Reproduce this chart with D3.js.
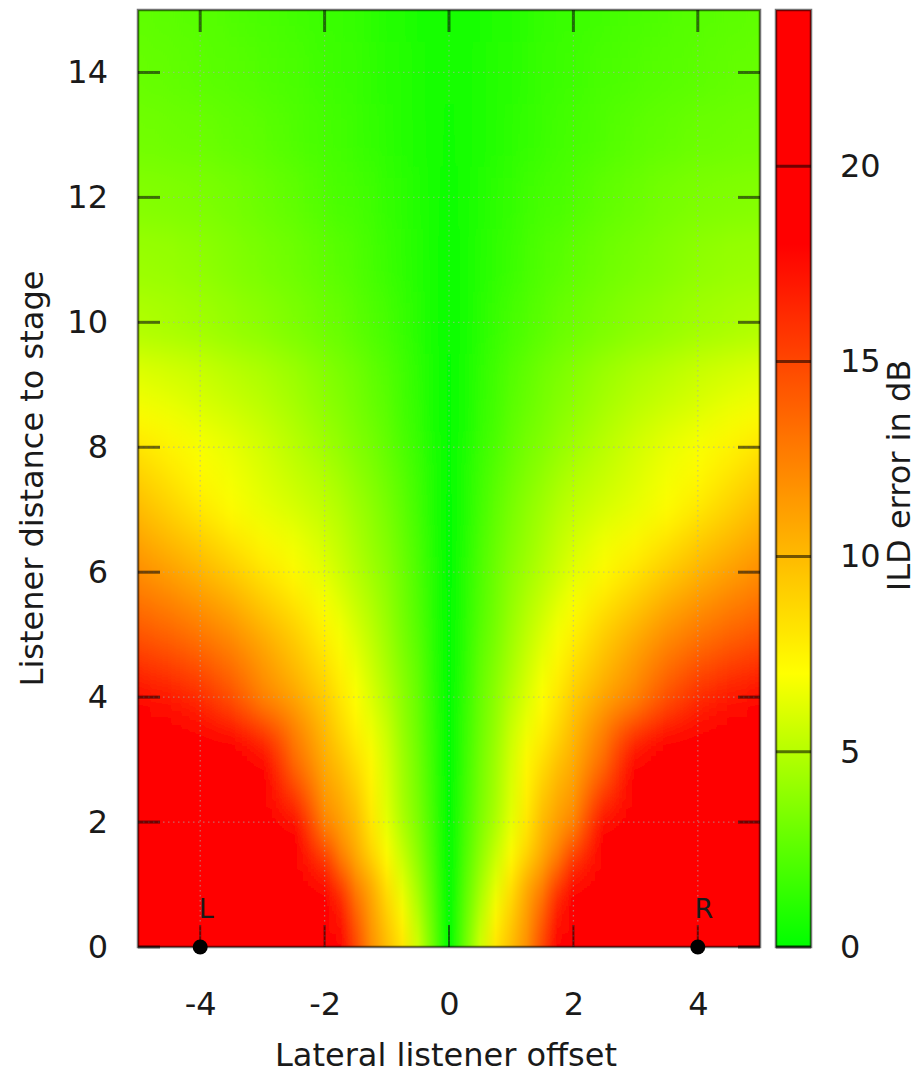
<!DOCTYPE html>
<html><head><meta charset="utf-8">
<script src="https://cdn.jsdelivr.net/npm/d3@7/dist/d3.min.js"></script>
<style>
body{margin:0;background:#fff}
svg{display:block}
text{font-family:"DejaVu Sans",sans-serif;fill:#1a1a1a}
</style>
</head><body>
<svg id="chart" width="919" height="1076"></svg>
<script>
// Lateral offsets (columns) and listener distances (rows) of the sampled ILD-error field
const xValues = [-5,-4.5,-4,-3.5,-3,-2.5,-2,-1.75,-1.5,-1.25,-1,-0.75,-0.5,-0.25,0,0.25,0.5,0.75,1,1.25,1.5,1.75,2,2.5,3,3.5,4,4.5,5];
const yValues = [0,0.5,1,1.5,2,2.5,3,3.5,4,4.5,5,5.5,6,6.5,7,7.5,8,8.5,9,10,11,12,13,14,15];
// ILD error in dB, one row per yValue (red area saturates)
const ildRows = [
 [25,25,25,25,25,25,22,18,15,12,10,8.3,5.7,2.9,0,2.9,5.7,8.3,10,12,15,18,22,25,25,25,25,25,25],
 [25,25,25,25,25,25,21,17,14,11.3,9.2,7.3,5.0,2.6,0,2.6,5.0,7.3,9.2,11.3,14,17,21,25,25,25,25,25,25],
 [25,25,25,25,25,24,19.5,15.8,12.7,10.8,8.4,6.2,4.4,2.3,0,2.3,4.4,6.2,8.4,10.8,12.7,15.8,19.5,24,25,25,25,25,25],
 [25,25,25,25,25,22.5,15.6,12.6,10.6,8.8,7.1,5.4,3.8,2.0,0,2.0,3.8,5.4,7.1,8.8,10.6,12.6,15.6,22.5,25,25,25,25,25],
 [25,25,25,25,22,18,12.3,11.2,10,8.1,6.2,4.7,3.4,1.8,0,1.8,3.4,4.7,6.2,8.1,10,11.2,12.3,18,22,25,25,25,25],
 [25,25,25,24,20.5,15.5,11.4,10.5,9.2,7.6,6.0,4.5,3.2,1.7,0,1.7,3.2,4.5,6.0,7.6,9.2,10.5,11.4,15.5,20.5,24,25,25,25],
 [25,25,24.5,21,18,13.5,10.6,9.6,8.4,7.3,5.8,4.4,3.1,1.6,0,1.6,3.1,4.4,5.8,7.3,8.4,9.6,10.6,13.5,18,21,24.5,25,25],
 [22,21,19.8,18,15.8,12.7,10,8.7,7.6,6.5,5.5,4.1,2.9,1.5,0,1.5,2.9,4.1,5.5,6.5,7.6,8.7,10,12.7,15.8,18,19.8,21,22],
 [18,17.3,16.3,14.6,12.4,11,9.2,8.1,7.0,6.0,5.0,3.9,2.8,1.4,0,1.4,2.8,3.9,5.0,6.0,7.0,8.1,9.2,11,12.4,14.6,16.3,17.3,18],
 [16.2,15.5,14.6,13.3,11.6,10,8.4,7.5,6.5,5.6,4.6,3.6,2.6,1.3,0,1.3,2.6,3.6,4.6,5.6,6.5,7.5,8.4,10,11.6,13.3,14.6,15.5,16.2],
 [14.5,13.8,13,12,10.6,9.2,7.6,6.8,6.0,5.2,4.3,3.3,2.4,1.2,0,1.2,2.4,3.3,4.3,5.2,6.0,6.8,7.6,9.2,10.6,12,13,13.8,14.5],
 [13.2,12.5,11.7,10.7,9.4,8.2,6.9,6.2,5.5,4.8,4.0,3.1,2.2,1.1,0,1.1,2.2,3.1,4.0,4.8,5.5,6.2,6.9,8.2,9.4,10.7,11.7,12.5,13.2],
 [12,11.2,10.3,9.3,8.2,7.2,6.2,5.6,5.0,4.4,3.8,3.0,2.1,1.1,0,1.1,2.1,3.0,3.8,4.4,5.0,5.6,6.2,7.2,8.2,9.3,10.3,11.2,12],
 [11,10.1,9.2,8.2,7.3,6.6,5.8,5.3,4.7,4.1,3.5,2.8,2.0,1.0,0,1.0,2.0,2.8,3.5,4.1,4.7,5.3,5.8,6.6,7.3,8.2,9.2,10.1,11],
 [10,9,8,7.1,6.4,5.9,5.3,4.9,4.4,3.9,3.3,2.6,1.8,0.9,0,0.9,1.8,2.6,3.3,3.9,4.4,4.9,5.3,5.9,6.4,7.1,8,9,10],
 [9.1,8.2,7.3,6.7,6.1,5.5,4.9,4.5,4.0,3.5,3.0,2.4,1.7,0.9,0.05,0.9,1.7,2.4,3.0,3.5,4.0,4.5,4.9,5.5,6.1,6.7,7.3,8.2,9.1],
 [8.2,7.5,6.9,6.4,5.8,5.1,4.4,4.0,3.6,3.2,2.7,2.1,1.5,0.8,0.1,0.8,1.5,2.1,2.7,3.2,3.6,4.0,4.4,5.1,5.8,6.4,6.9,7.5,8.2],
 [7.1,6.7,6.2,5.8,5.3,4.7,4.0,3.7,3.3,2.9,2.5,1.9,1.4,0.7,0.1,0.7,1.4,1.9,2.5,2.9,3.3,3.7,4.0,4.7,5.3,5.8,6.2,6.7,7.1],
 [6.2,5.9,5.6,5.2,4.8,4.3,3.7,3.4,3.1,2.7,2.3,1.8,1.3,0.7,0.1,0.7,1.3,1.8,2.3,2.7,3.1,3.4,3.7,4.3,4.8,5.2,5.6,5.9,6.2],
 [4.8,4.6,4.4,4.1,3.8,3.4,3.0,2.8,2.5,2.2,1.9,1.5,1.1,0.6,0.2,0.6,1.1,1.5,1.9,2.2,2.5,2.8,3.0,3.4,3.8,4.1,4.4,4.6,4.8],
 [4.2,4.1,3.9,3.6,3.3,3.0,2.6,2.4,2.2,1.9,1.6,1.3,1.0,0.6,0.2,0.6,1.0,1.3,1.6,1.9,2.2,2.4,2.6,3.0,3.3,3.6,3.9,4.1,4.2],
 [3.6,3.5,3.4,3.2,2.9,2.6,2.2,2.0,1.9,1.7,1.4,1.2,0.9,0.6,0.3,0.6,0.9,1.2,1.4,1.7,1.9,2.0,2.2,2.6,2.9,3.2,3.4,3.5,3.6],
 [3.1,3.0,2.9,2.7,2.5,2.2,1.9,1.8,1.6,1.4,1.2,1.0,0.8,0.6,0.4,0.6,0.8,1.0,1.2,1.4,1.6,1.8,1.9,2.2,2.5,2.7,2.9,3.0,3.1],
 [2.8,2.7,2.5,2.4,2.2,2.0,1.7,1.6,1.5,1.3,1.1,1.0,0.8,0.6,0.5,0.6,0.8,1.0,1.1,1.3,1.5,1.6,1.7,2.0,2.2,2.4,2.5,2.7,2.8],
 [2.6,2.5,2.4,2.2,2.0,1.8,1.6,1.5,1.4,1.2,1.0,0.9,0.7,0.6,0.5,0.6,0.7,0.9,1.0,1.2,1.4,1.5,1.6,1.8,2.0,2.2,2.4,2.5,2.6]
];
const xTicks = [-4,-2,0,2,4];
const yTicks = [0,2,4,6,8,10,12,14];
const cbTicks = [0,5,10,15,20];
const paletteStops = [0,7,12,18,24];
const paletteColors = ["#00ff00","#ffff00","#ff8c00","#ff0000","#ff0000"];
const speakerLabels = ["L","R"];
const speakerX = [-4,4];
const speakerY = [0,0];

const svg = d3.select("#chart");
const plot = {left:138, right:760, top:10, bottom:947};
const cb = {left:776, right:811};
const x = d3.scaleLinear().domain([-5,5]).range([plot.left, plot.right]);
const y = d3.scaleLinear().domain([0,15]).range([plot.bottom, plot.top]);
const cy = d3.scaleLinear().domain([0,24]).range([plot.bottom, plot.top]);
const color = d3.scaleLinear().domain(paletteStops).range(paletteColors).clamp(true);
const tickCol = "rgba(0,0,0,0.55)";

svg.append("rect").attr("width",919).attr("height",1076).attr("fill","#fff");
const defs = svg.append("defs");
defs.append("clipPath").attr("id","plotClip").append("rect")
  .attr("x",plot.left).attr("y",plot.top)
  .attr("width",plot.right-plot.left).attr("height",plot.bottom-plot.top);
const filt = defs.append("filter").attr("id","vblur")
  .attr("filterUnits","userSpaceOnUse").attr("x",0).attr("y",-200)
  .attr("width",919).attr("height",1476);
filt.append("feGaussianBlur").attr("stdDeviation","0.01 17");

// one horizontal gradient per sampled row
ildRows.forEach((row,j)=>{
  const g = defs.append("linearGradient").attr("id","row"+j)
    .attr("gradientUnits","userSpaceOnUse")
    .attr("x1",x(-5)).attr("x2",x(5)).attr("y1",0).attr("y2",0);
  row.forEach((v,i)=>{
    g.append("stop").attr("offset",(x(xValues[i])-x(-5))/(x(5)-x(-5))).attr("stop-color",color(v));
  });
});

const pad = 80;
const last = yValues.length-1;
const rowTop = j => j===last ? y(15)-pad : y((yValues[j]+yValues[j+1])/2);
const rowBot = j => j===0 ? y(0)+pad : y((yValues[j-1]+yValues[j])/2);
const heat = svg.append("g").attr("clip-path","url(#plotClip)")
  .append("g").attr("filter","url(#vblur)");
heat.selectAll("rect").data(ildRows).join("rect")
  .attr("x",x(-5)-pad).attr("width",x(5)-x(-5)+2*pad)
  .attr("y",(d,j)=>rowTop(j))
  .attr("height",(d,j)=>rowBot(j)-rowTop(j)+0.5)
  .attr("fill",(d,j)=>`url(#row${j})`);

// grid
const grid = svg.append("g").attr("stroke","rgba(170,170,170,0.6)").attr("stroke-width",1.3).attr("stroke-dasharray","1.5 3.5");
grid.selectAll("line.gx").data(xTicks).join("line").attr("class","gx")
  .attr("x1",d=>x(d)).attr("x2",d=>x(d)).attr("y1",plot.top).attr("y2",plot.bottom);
grid.selectAll("line.gy").data(yTicks.filter(d=>d>0)).join("line").attr("class","gy")
  .attr("y1",d=>y(d)).attr("y2",d=>y(d)).attr("x1",plot.left).attr("x2",plot.right);

// inward ticks on all four sides
const tk = 22;
const ticks = svg.append("g").attr("stroke",tickCol).attr("stroke-width",3);
xTicks.forEach(d=>{
  ticks.append("line").attr("x1",x(d)).attr("x2",x(d)).attr("y1",plot.bottom).attr("y2",plot.bottom-tk).attr("stroke-width",2);
  ticks.append("line").attr("x1",x(d)).attr("x2",x(d)).attr("y1",plot.top).attr("y2",plot.top+tk);
});
yTicks.forEach(d=>{
  ticks.append("line").attr("y1",y(d)).attr("y2",y(d)).attr("x1",plot.left).attr("x2",plot.left+tk);
  ticks.append("line").attr("y1",y(d)).attr("y2",y(d)).attr("x1",plot.right).attr("x2",plot.right-tk);
});
svg.append("rect").attr("x",plot.left).attr("y",plot.top)
  .attr("width",plot.right-plot.left).attr("height",plot.bottom-plot.top)
  .attr("fill","none").attr("stroke",tickCol).attr("stroke-width",2.5);

// speakers
svg.selectAll("circle.spk").data(speakerX).join("circle").attr("class","spk")
  .attr("cx",d=>x(d)).attr("cy",(d,i)=>y(speakerY[i])).attr("r",7.5).attr("fill","#000");
svg.selectAll("text.spk").data(speakerLabels).join("text").attr("class","spk")
  .attr("x",(d,i)=>x(speakerX[i])+6).attr("y",(d,i)=>y(speakerY[i])-29)
  .attr("text-anchor","middle").attr("font-size",27).text(d=>d);

// axes labels
const fmt = d=>String(d);
svg.append("g").attr("transform",`translate(0,${plot.bottom})`)
  .call(d3.axisBottom(x).tickValues(xTicks).tickSize(0).tickFormat(fmt))
  .attr("font-size",32).attr("font-family",null)
  .call(g=>g.select(".domain").remove())
  .call(g=>g.selectAll("text").attr("y",68).attr("dy",null));
svg.append("g").attr("transform",`translate(${plot.left},0)`)
  .call(d3.axisLeft(y).tickValues(yTicks).tickSize(0).tickPadding(30).tickFormat(fmt))
  .attr("font-size",32).attr("font-family",null)
  .call(g=>g.select(".domain").remove());

// colour box
const cg = defs.append("linearGradient").attr("id","cbGrad")
  .attr("x1",0).attr("x2",0).attr("y1",1).attr("y2",0);
d3.range(0,24.01,0.5).forEach(v=>cg.append("stop").attr("offset",v/24).attr("stop-color",color(v)));
svg.append("rect").attr("x",cb.left).attr("y",plot.top)
  .attr("width",cb.right-cb.left).attr("height",plot.bottom-plot.top)
  .attr("fill","url(#cbGrad)").attr("stroke",tickCol).attr("stroke-width",2.5);
svg.append("g").attr("stroke",tickCol).attr("stroke-width",3)
  .selectAll("line").data(cbTicks).join("line")
  .attr("x1",cb.left).attr("x2",cb.right).attr("y1",d=>cy(d)).attr("y2",d=>cy(d));
svg.append("g").attr("transform",`translate(${cb.right},0)`)
  .call(d3.axisRight(cy).tickValues(cbTicks).tickSize(0).tickPadding(29).tickFormat(fmt))
  .attr("font-size",32).attr("font-family",null)
  .call(g=>g.select(".domain").remove());

// titles
svg.append("text").attr("x",(plot.left+plot.right)/2-3).attr("y",1066)
  .attr("text-anchor","middle").attr("font-size",32).text("Lateral listener offset");
svg.append("text").attr("transform",`translate(43,${(plot.top+plot.bottom)/2}) rotate(-90)`)
  .attr("text-anchor","middle").attr("font-size",32).text("Listener distance to stage");
svg.append("text").attr("transform",`translate(910,${(plot.top+plot.bottom)/2-3}) rotate(-90)`)
  .attr("text-anchor","middle").attr("font-size",32).text("ILD error in dB");
</script>
</body></html>
